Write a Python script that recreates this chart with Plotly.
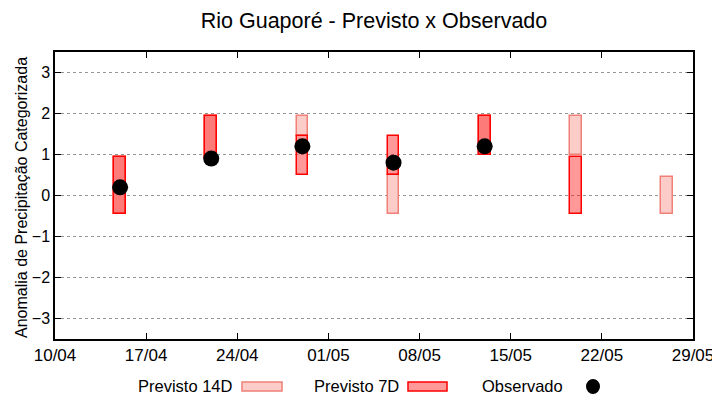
import plotly.graph_objects as go

# ---- data ----
dates_14d = ["2024-04-15", "2024-04-22", "2024-04-29", "2024-05-06", "2024-05-13", "2024-05-20", "2024-05-27"]
p14_low = [-0.45, 0.9, 1.45, -0.45, 1.0, 1.0, -0.45]
p14_high = [0.95, 1.95, 1.95, 0.5, 1.95, 1.95, 0.45]

dates_7d = ["2024-04-15", "2024-04-22", "2024-04-29", "2024-05-06", "2024-05-13", "2024-05-20"]
p7_low = [-0.45, 0.9, 0.5, 0.5, 1.0, -0.45]
p7_high = [0.95, 1.95, 1.45, 1.45, 1.95, 0.95]

dates_obs = ["2024-04-15", "2024-04-22", "2024-04-29", "2024-05-06", "2024-05-13"]
obs = [0.2, 0.9, 1.2, 0.8, 1.2]

y_ticks = [-3, -2, -1, 0, 1, 2, 3]

# ---- style ----
OFF = 8  # page body offset
W, H = 720 - OFF, 400 - OFF
# plot area in screen pixels
L, R, T, B = 55, 693, 52, 339
C14_FILL = "rgb(252,205,200)"
C14_LINE = "rgb(240,128,120)"
C7_FILL = "rgba(255,0,0,0.4)"
C7_LINE = "rgb(255,0,0)"
DAY_MS = 86400000
BAR_W = 0.9 * DAY_MS
FONT = "Liberation Sans, Arial, sans-serif"
NARROW = "Liberation Sans Narrow, Liberation Sans, Arial, sans-serif"

fig = go.Figure()
fig.add_trace(go.Bar(
    x=dates_14d, base=p14_low, y=[h - l for h, l in zip(p14_high, p14_low)],
    width=BAR_W, marker=dict(color=C14_FILL, line=dict(color=C14_LINE, width=1.5)),
    name="Previsto 14D", showlegend=False))
fig.add_trace(go.Bar(
    x=dates_7d, base=p7_low, y=[h - l for h, l in zip(p7_high, p7_low)],
    width=BAR_W, marker=dict(color=C7_FILL, line=dict(color=C7_LINE, width=1.5)),
    name="Previsto 7D", showlegend=False))
fig.add_trace(go.Scatter(
    x=dates_obs, y=obs, mode="markers",
    marker=dict(color="black", size=16, symbol="circle"),
    name="Observado", showlegend=False))

# custom legend (text left of sample, gnuplot style)
def px(x):
    return (x - L) / (R - L)

def py(y):
    return (B - y) / (B - T)

ly = 386
for label, x_text_end, x0, x1, fill, line in [
    ("Previsto 14D", 235, 242, 282, C14_FILL, C14_LINE),
    ("Previsto 7D", 401, 408, 447, "rgb(255,153,153)", C7_LINE),
]:
    fig.add_annotation(x=px(x_text_end), y=py(ly), xref="paper", yref="paper",
                       text=label, showarrow=False, xanchor="right", yanchor="middle",
                       font=dict(family=NARROW, size=16.5, color="black"))
    fig.add_shape(type="rect", xref="paper", yref="paper",
                  x0=px(x0), x1=px(x1), y0=py(ly + 5), y1=py(ly - 4),
                  fillcolor=fill, line=dict(color=line, width=1.5))
fig.add_annotation(x=px(565), y=py(ly), xref="paper", yref="paper",
                   text="Observado", showarrow=False, xanchor="right", yanchor="middle",
                   font=dict(family=NARROW, size=16.5, color="black"))
fig.add_shape(type="circle", xref="paper", yref="paper",
              x0=px(586), x1=px(600), y0=py(ly + 8), y1=py(ly - 7),
              fillcolor="black", line=dict(color="black", width=0))

# y axis title as annotation
fig.add_annotation(x=px(21), y=py(198), xref="paper", yref="paper",
                   text="Anomalia de Precipitação Categorizada", textangle=-90,
                   showarrow=False, xanchor="center", yanchor="middle",
                   font=dict(family=FONT, size=16, color="black"))

fig.update_layout(
    width=W, height=H,
    margin=dict(l=L - OFF, r=W - (R - OFF), t=T - OFF, b=H - (B - OFF), autoexpand=False),
    paper_bgcolor="white", plot_bgcolor="white",
    barmode="overlay", bargap=0,
    showlegend=False,
    title=dict(text="Rio Guaporé - Previsto x Observado", x=0.5, xref="paper", xanchor="center",
               y=1 - (20 - OFF) / H, yanchor="middle",
               font=dict(family=FONT, size=21.5, color="black")),
    font=dict(family=FONT, color="black"),
)
fig.update_xaxes(
    type="date", range=["2024-04-10", "2024-05-29"],
    tick0="2024-04-10", dtick=7 * DAY_MS, tickformat="%d/%m",
    ticks="inside", ticklen=6, tickcolor="black", mirror="allticks",
    showline=True, linecolor="black", linewidth=1.5,
    showgrid=False, zeroline=False, automargin=False,
    tickfont=dict(family=NARROW, size=17, color="black"),
)
fig.update_yaxes(
    range=[-3.5, 3.5], tickvals=y_ticks,
    ticks="inside", ticklen=6, tickcolor="black", mirror="allticks",
    showline=True, linecolor="black", linewidth=1.5,
    showgrid=True, gridcolor="rgb(150,150,150)", griddash="dot", gridwidth=1,
    zeroline=False, automargin=False,
    tickfont=dict(family=FONT, size=16, color="black"),
)

fig.write_html("out.html")
